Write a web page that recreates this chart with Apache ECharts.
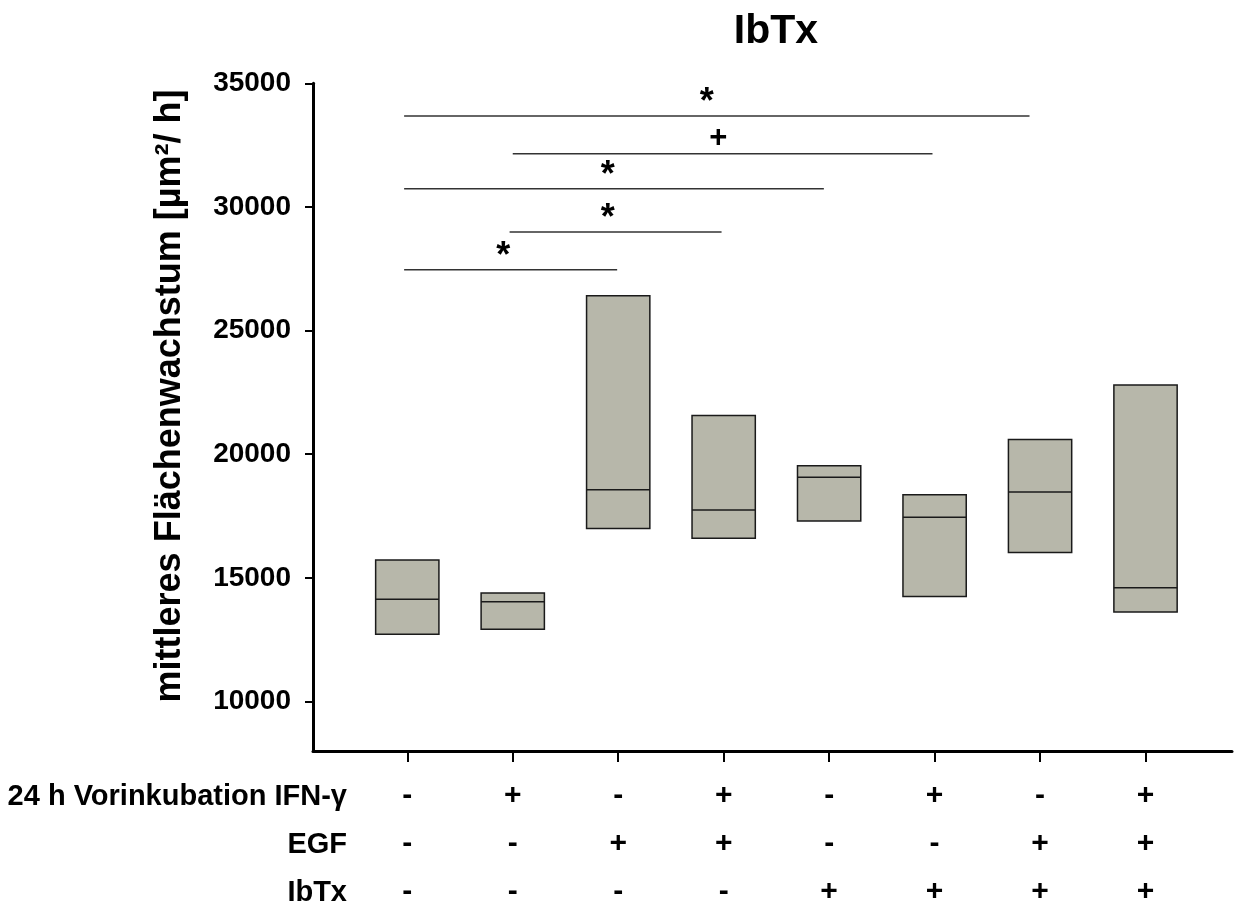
<!DOCTYPE html>
<html>
<head>
<meta charset="utf-8">
<script src="https://cdn.jsdelivr.net/npm/echarts@6/dist/echarts.min.js"></script>
<style>
  html, body { margin: 0; padding: 0; background: #fff; }
  #chart { width: 1242px; height: 906px; }
</style>
</head>
<body>
<div id="chart"></div>
<script>
// Group positions along the x axis
const positions = [1, 2, 3, 4, 5, 6, 7, 8];

// Box values per group: lower quartile, median, upper quartile (µm²/h)
const q1     = [12720, 12920, 17000, 16600, 17300, 14250, 16030, 13620];
const median = [14140, 14040, 18560, 17750, 19070, 17450, 18470, 14600];
const q3     = [15720, 14390, 26410, 21570, 19530, 18360, 20600, 22800];

// Treatment table below the axis
const rowNames = ['24 h Vorinkubation IFN-γ', 'EGF', 'IbTx'];
const ifnRow   = ['-', '+', '-', '+', '-', '+', '-', '+'];
const egfRow   = ['-', '-', '+', '+', '-', '-', '+', '+'];
const ibtxRow  = ['-', '-', '-', '-', '+', '+', '+', '+'];

// Y axis tick values
const yTicks = [10000, 15000, 20000, 25000, 30000, 35000];

// Significance brackets: span (x from/to), level (y) and the mark above it
const bracketFrom  = [0.97, 2.00, 0.97, 1.97, 0.97];
const bracketTo    = [6.90, 5.98, 4.95, 3.98, 2.99];
const bracketLevel = [33680, 32150, 30740, 28990, 27460];
const bracketMark  = ['*', '+', '*', '*', '*'];
const markPos      = [3.84, 3.95, 2.90, 2.90, 1.91];

const FONT = "'Liberation Sans', Arial, Helvetica, sans-serif";

const chart = echarts.init(document.getElementById('chart'), null, { renderer: 'canvas' });

const boxData = positions.map((p, i) => [p, q1[i], median[i], q3[i]]);
const bracketData = bracketFrom.map((a, i) => [a, bracketTo[i], bracketLevel[i], markPos[i], i]);

const option = {
  backgroundColor: '#ffffff',
  animation: false,
  title: {
    text: 'IbTx',
    left: 771,
    top: 6,
    textAlign: 'center',
    textStyle: { fontFamily: FONT, fontWeight: 'bold', fontSize: 41, color: '#000' }
  },
  grid: { left: 313, right: 10, top: 83.3, bottom: 155, outerBoundsMode: 'none', containLabel: false },
  xAxis: {
    type: 'value',
    min: 0.106,
    max: 8.82,
    splitLine: { show: false },
    axisLine: { show: true, onZero: false, lineStyle: { color: '#000', width: 3 } },
    axisTick: {
      show: true, customValues: positions, length: 11, inside: false,
      lineStyle: { color: '#000', width: 2 }
    },
    axisLabel: {
      show: true,
      customValues: positions,
      margin: 21,
      fontFamily: FONT,
      fontWeight: 'bold',
      fontSize: 30,
      lineHeight: 48,
      color: '#000',
      align: 'center',
      formatter: function (v) {
        const i = positions.indexOf(Math.round(v));
        return [ifnRow[i], egfRow[i], ibtxRow[i]].join('\n');
      }
    }
  },
  yAxis: {
    type: 'value',
    min: 8000,
    max: 35000,
    splitLine: { show: false },
    axisLine: { show: true, lineStyle: { color: '#000', width: 3 } },
    axisTick: { show: true, customValues: yTicks, length: 8, lineStyle: { color: '#000', width: 2 } },
    axisLabel: {
      show: true,
      customValues: yTicks,
      margin: 22,
      fontFamily: FONT,
      fontWeight: 'bold',
      fontSize: 28,
      color: '#000',
      formatter: function (v) { return String(Math.round(v)); }
    }
  },
  graphic: [
    {
      type: 'text',
      x: 170,
      y: 396,
      rotation: Math.PI / 2,
      style: {
        text: 'mittleres Flächenwachstum [µm²/ h]',
        font: 'bold 36px ' + FONT,
        fill: '#000',
        align: 'center',
        verticalAlign: 'middle'
      }
    }
  ].concat(rowNames.map((name, i) => ({
    type: 'text',
    x: 347,
    y: 797 + i * 48,
    style: {
      text: name,
      font: 'bold 29px ' + FONT,
      fill: '#000',
      align: 'right',
      verticalAlign: 'middle'
    }
  }))),
  series: [
    {
      name: 'boxes',
      type: 'custom',
      data: boxData,
      encode: { x: 0, y: [1, 2, 3] },
      renderItem: function (params, api) {
        const x = api.value(0);
        const lo = api.coord([x - 0.3, api.value(1)]);
        const hi = api.coord([x + 0.3, api.value(3)]);
        const md = api.coord([x, api.value(2)]);
        return {
          type: 'group',
          children: [
            {
              type: 'rect',
              shape: { x: lo[0], y: hi[1], width: hi[0] - lo[0], height: lo[1] - hi[1] },
              style: { fill: '#b7b7aa', stroke: '#1a1a1a', lineWidth: 1.5 }
            },
            {
              type: 'line',
              shape: { x1: lo[0], y1: md[1], x2: hi[0], y2: md[1] },
              style: { stroke: '#1a1a1a', lineWidth: 1.5 }
            }
          ]
        };
      }
    },
    {
      name: 'brackets',
      type: 'custom',
      data: bracketData,
      encode: { x: [0, 1], y: 2 },
      renderItem: function (params, api) {
        const i = api.value(4);
        const mark = bracketMark[i];
        const a = api.coord([api.value(0), api.value(2)]);
        const b = api.coord([api.value(1), api.value(2)]);
        const m = api.coord([api.value(3), api.value(2)]);
        const isStar = mark === '*';
        return {
          type: 'group',
          children: [
            {
              type: 'line',
              shape: { x1: a[0], y1: a[1], x2: b[0], y2: b[1] },
              style: { stroke: '#333', lineWidth: 1.5 }
            },
            {
              type: 'text',
              x: m[0],
              y: a[1] - (isStar ? 13 : 15),
              style: {
                text: mark,
                font: 'bold ' + (isStar ? 36 : 31) + 'px ' + FONT,
                fill: '#000',
                align: 'center',
                verticalAlign: 'middle'
              }
            }
          ]
        };
      }
    }
  ]
};

chart.setOption(option);
</script>
</body>
</html>
